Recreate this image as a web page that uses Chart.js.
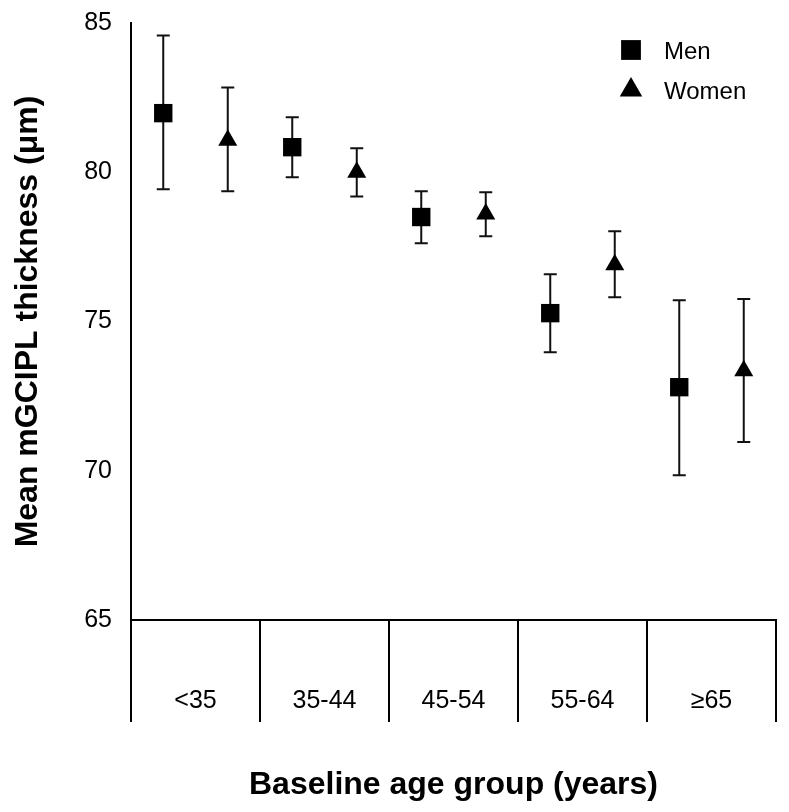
<!DOCTYPE html>
<html>
<head>
<meta charset="utf-8">
<title>Mean mGCIPL thickness by age group</title>
<script src="https://cdn.jsdelivr.net/npm/chart.js@4.4.1/dist/chart.umd.min.js"></script>
<style>
    html, body { margin: 0; padding: 0; background: #fff; }
    #wrap { width: 789px; height: 812px; position: relative; }
</style>
</head>
<body>
<div id="wrap"><canvas id="thicknessChart"></canvas></div>
<script>
// Chart data
const ageGroups = ['<35', '35-44', '45-54', '55-64', '≥65'];
const menMean = [81.98, 80.84, 78.5, 75.28, 72.8];
const menLower = [79.43, 79.83, 77.62, 73.97, 69.85];
const menUpper = [84.58, 81.84, 79.36, 76.58, 75.71];
const womenMean = [81.07, 80.0, 78.6, 76.9, 73.35];
const womenLower = [79.36, 79.19, 77.86, 75.81, 70.96];
const womenUpper = [82.84, 80.8, 79.33, 78.02, 75.75];
const yTicks = [65, 70, 75, 80, 85];

const FONT = '"Liberation Sans", Arial, sans-serif';

// Build points; men sit in the left part of each group, women in the right
function buildPoints(means, lower, upper, shift) {
    return means.map((m, i) => ({ x: i + shift, y: m, lo: lower[i], hi: upper[i] }));
}

// Error bars with caps, drawn under the markers
const errorBars = {
    id: 'errorBars',
    beforeDatasetsDraw(chart) {
        const ctx = chart.ctx;
        const xs = chart.scales.x;
        const ys = chart.scales.y;
        ctx.save();
        ctx.strokeStyle = '#111';
        ctx.lineWidth = 2;
        chart.data.datasets.forEach(ds => {
            ds.data.forEach(p => {
                const x = xs.getPixelForValue(p.x);
                const top = ys.getPixelForValue(p.hi);
                const bottom = ys.getPixelForValue(p.lo);
                ctx.beginPath();
                ctx.moveTo(x, top);
                ctx.lineTo(x, bottom);
                ctx.moveTo(x - 6.5, top);
                ctx.lineTo(x + 6.5, top);
                ctx.moveTo(x - 6.5, bottom);
                ctx.lineTo(x + 6.5, bottom);
                ctx.stroke();
            });
        });
        ctx.restore();
    }
};

// Vertical separators between the age groups, below the x axis
const groupLines = {
    id: 'groupLines',
    afterDraw(chart) {
        const ctx = chart.ctx;
        const xs = chart.scales.x;
        const area = chart.chartArea;
        ctx.save();
        ctx.strokeStyle = '#000';
        ctx.lineWidth = 2;
        for (let i = 0; i <= ageGroups.length; i++) {
            const x = Math.round(xs.getPixelForValue(i));
            ctx.beginPath();
            ctx.moveTo(x, area.bottom);
            ctx.lineTo(x, area.bottom + 102);
            ctx.stroke();
        }
        ctx.restore();
    }
};

// Legend in the top right corner of the plot
const cornerLegend = {
    id: 'cornerLegend',
    afterDraw(chart) {
        const ctx = chart.ctx;
        const area = chart.chartArea;
        const mx = area.right - 145;
        ctx.save();
        ctx.fillStyle = '#000';
        ctx.strokeStyle = '#000';
        Chart.helpers.drawPoint(ctx, { pointStyle: 'rect', radius: 14, borderWidth: 0 }, mx, area.top + 27);
        Chart.helpers.drawPoint(ctx, { pointStyle: 'triangle', radius: 13, borderWidth: 0 }, mx, area.top + 67);
        ctx.font = '24px ' + FONT;
        ctx.textBaseline = 'middle';
        ctx.textAlign = 'left';
        ctx.fillText(chart.data.datasets[0].label, mx + 33, area.top + 29);
        ctx.fillText(chart.data.datasets[1].label, mx + 33, area.top + 69);
        ctx.restore();
    }
};

const ctx = document.getElementById('thicknessChart').getContext('2d');
new Chart(ctx, {
    type: 'scatter',
    data: {
        datasets: [
            {
                label: 'Men',
                data: buildPoints(menMean, menLower, menUpper, 0.25),
                pointStyle: 'rect',
                pointRadius: 13,
                pointHoverRadius: 13,
                backgroundColor: '#000',
                borderColor: '#000',
                borderWidth: 0,
            },
            {
                label: 'Women',
                data: buildPoints(womenMean, womenLower, womenUpper, 0.75),
                pointStyle: 'triangle',
                pointRadius: 11,
                pointHoverRadius: 11,
                backgroundColor: '#000',
                borderColor: '#000',
                borderWidth: 0,
            },
        ],
    },
    options: {
        responsive: true,
        maintainAspectRatio: false,
        animation: false,
        layout: { padding: { top: 23, right: 11, left: 0, bottom: 0 } },
        plugins: {
            legend: { display: false },
            tooltip: { enabled: false },
        },
        scales: {
            x: {
                type: 'linear',
                min: 0,
                max: ageGroups.length,
                grid: { display: false, drawTicks: false },
                border: { display: true, color: '#000', width: 2 },
                afterBuildTicks: scale => {
                    scale.ticks = ageGroups.map((g, i) => ({ value: i + 0.5 }));
                },
                afterFit: scale => {
                    scale.height = 192;
                    scale.paddingLeft = 0;
                    scale.paddingRight = 0;
                },
                ticks: {
                    color: '#000',
                    font: { family: FONT, size: 25 },
                    padding: 66,
                    maxRotation: 0,
                    autoSkip: false,
                    callback: value => ageGroups[Math.floor(value)],
                },
                title: {
                    display: true,
                    text: 'Baseline age group (years)',
                    color: '#000',
                    font: { family: FONT, size: 32, weight: 'bold' },
                    padding: { top: 0, bottom: 8 },
                },
            },
            y: {
                min: 65,
                max: 85,
                grid: { display: false, drawTicks: false },
                border: { display: true, color: '#000', width: 2 },
                afterBuildTicks: scale => {
                    scale.ticks = yTicks.map(v => ({ value: v }));
                },
                afterFit: scale => {
                    scale.width = 131;
                    scale.paddingTop = 0;
                    scale.paddingBottom = 0;
                },
                ticks: {
                    color: '#000',
                    font: { family: FONT, size: 25 },
                    padding: 19,
                },
                title: {
                    display: true,
                    text: 'Mean mGCIPL thickness (μm)',
                    color: '#000',
                    font: { family: FONT, size: 32, weight: 'bold' },
                    padding: { top: 9, bottom: 0 },
                },
            },
        },
    },
    plugins: [errorBars, groupLines, cornerLegend],
});
</script>
</body>
</html>
